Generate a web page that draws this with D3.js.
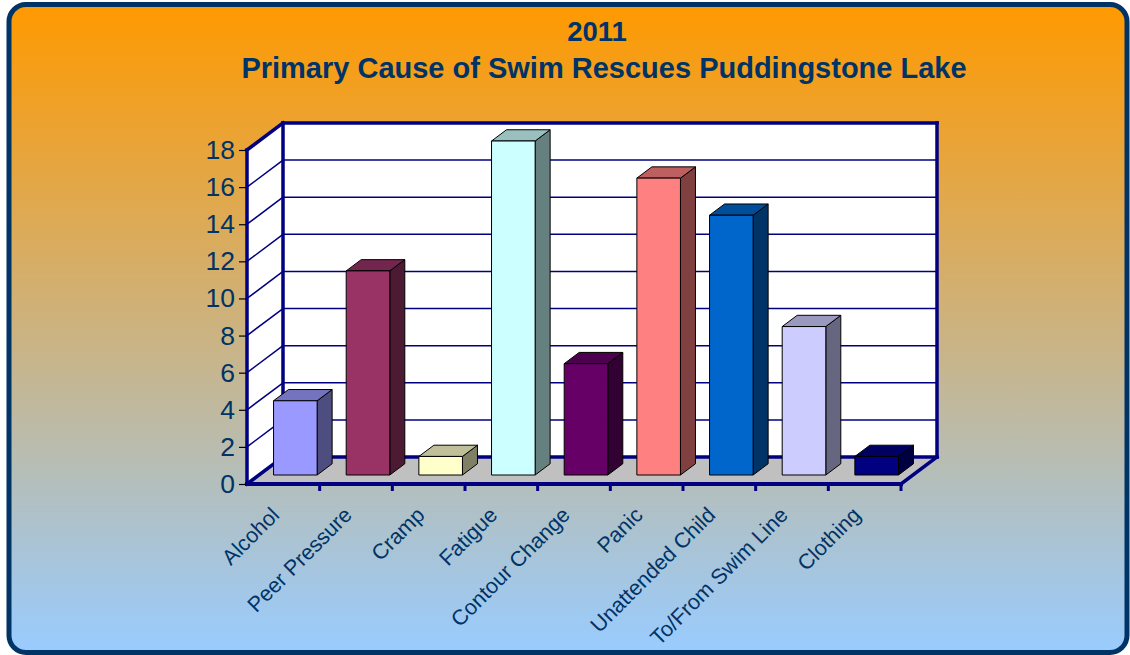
<!DOCTYPE html>
<html>
<head>
<meta charset="utf-8">
<script src="https://cdn.jsdelivr.net/npm/d3@7"></script>
<style>
  html, body { margin: 0; padding: 0; background: #ffffff; }
  svg { display: block; font-family: "Liberation Sans", Arial, sans-serif; }
</style>
</head>
<body>
<svg id="chart" width="1130" height="655"></svg>
<script>
// ---- data ----
const categories = ['Alcohol', 'Peer Pressure', 'Cramp', 'Fatigue', 'Contour Change',
                    'Panic', 'Unattended Child', 'To/From Swim Line', 'Clothing'];
const rescues = [4, 11, 1, 18, 6, 16, 14, 8, 1];
const barColors = ['#9999FF', '#993366', '#FFFFCC', '#CCFFFF', '#660066',
                   '#FF8080', '#0066CC', '#CCCCFF', '#000080'];
const yTicks = [0, 2, 4, 6, 8, 10, 12, 14, 16, 18];
const titleLines = ['2011', 'Primary Cause of Swim Rescues Puddingstone Lake'];

// ---- layout ----
const W = 1130, H = 655;
const plot = { left: 247, right: 901, bottom: 484, top: 150 };
const depth = { dx: 36, dy: -27 };      // floor depth offset (oblique projection)
const barDepth = [1 / 3, 0.75];          // bar front/back as fraction of floor depth
const navy = '#000080';
const textColor = '#003366';

const svg = d3.select('#chart');
const defs = svg.append('defs');

const grad = defs.append('linearGradient')
    .attr('id', 'bg')
    .attr('x1', 0).attr('y1', 0).attr('x2', 0).attr('y2', 1);
grad.append('stop').attr('offset', '0%').attr('stop-color', '#FF9900');
grad.append('stop').attr('offset', '100%').attr('stop-color', '#99CCFF');

// background panel
svg.append('rect')
    .attr('x', 9).attr('y', 4.5)
    .attr('width', W - 12).attr('height', H - 7)
    .attr('rx', 17).attr('ry', 17)
    .attr('fill', 'url(#bg)')
    .attr('stroke', '#003366')
    .attr('stroke-width', 5);

// title
const titleStyle = [{ x: 597, y: 41, size: 27.5 }, { x: 604, y: 78, size: 29 }];
svg.append('g')
    .selectAll('text')
    .data(titleLines)
    .join('text')
    .attr('x', (d, i) => titleStyle[i].x)
    .attr('y', (d, i) => titleStyle[i].y)
    .attr('text-anchor', 'middle')
    .attr('font-size', (d, i) => titleStyle[i].size)
    .attr('font-weight', 'bold')
    .attr('fill', textColor)
    .text(d => d);

// scales
const x = d3.scaleBand()
    .domain(categories)
    .range([plot.left, plot.right])
    .paddingInner(0.4)
    .paddingOuter(0.2);

const y = d3.scaleLinear()
    .domain([0, 18])
    .range([plot.bottom, plot.top]);

const proj = (px, py, d) => [px + depth.dx * d, py + depth.dy * d];
const pts = arr => arr.map(p => p.join(',')).join(' ');

const g = svg.append('g');

// walls and floor
const y0 = y(0), yMax = y(18);
g.append('polygon')   // back wall
    .attr('points', pts([proj(plot.left, yMax, 1), proj(plot.right, yMax, 1),
                         proj(plot.right, y0, 1), proj(plot.left, y0, 1)]))
    .attr('fill', '#ffffff');
g.append('polygon')   // side wall
    .attr('points', pts([[plot.left, yMax], proj(plot.left, yMax, 1),
                         proj(plot.left, y0, 1), [plot.left, y0]]))
    .attr('fill', '#ffffff');
g.append('polygon')   // floor
    .attr('points', pts([[plot.left, y0], [plot.right, y0],
                         proj(plot.right, y0, 1), proj(plot.left, y0, 1)]))
    .attr('fill', '#C0C0C0');

// gridlines on back wall and side wall
const inner = yTicks.filter(v => v > 0 && v < 18);
g.selectAll('.grid-back')
    .data(inner)
    .join('line')
    .attr('class', 'grid-back')
    .attr('x1', v => proj(plot.left, y(v), 1)[0])
    .attr('y1', v => proj(plot.left, y(v), 1)[1])
    .attr('x2', v => proj(plot.right, y(v), 1)[0])
    .attr('y2', v => proj(plot.right, y(v), 1)[1])
    .attr('stroke', navy)
    .attr('stroke-width', 1.5);
g.selectAll('.grid-side')
    .data(inner)
    .join('line')
    .attr('class', 'grid-side')
    .attr('x1', plot.left)
    .attr('y1', v => y(v))
    .attr('x2', v => proj(plot.left, y(v), 1)[0])
    .attr('y2', v => proj(plot.left, y(v), 1)[1])
    .attr('stroke', navy)
    .attr('stroke-width', 1.5);

// wall edges
const edges = [
    [proj(plot.left, yMax, 1), proj(plot.right, yMax, 1)],
    [proj(plot.right, yMax, 1), proj(plot.right, y0, 1)],
    [proj(plot.left, yMax, 1), proj(plot.left, y0, 1)],
    [proj(plot.left, y0, 1), proj(plot.right, y0, 1)],
    [[plot.left, yMax], proj(plot.left, yMax, 1)],
    [[plot.left, y0], proj(plot.left, y0, 1)],
    [[plot.right, y0], proj(plot.right, y0, 1)]
];
g.selectAll('.edge')
    .data(edges)
    .join('line')
    .attr('class', 'edge')
    .attr('x1', d => d[0][0]).attr('y1', d => d[0][1])
    .attr('x2', d => d[1][0]).attr('y2', d => d[1][1])
    .attr('stroke', navy)
    .attr('stroke-width', 3.5)
    .attr('stroke-linecap', 'square');

// bars
const shade = (c, k) => {
    const r = d3.rgb(c);
    return d3.rgb(r.r * k, r.g * k, r.b * k).toString();
};
const bars = g.selectAll('.bar')
    .data(categories.map((c, i) => ({ cat: c, value: rescues[i], color: barColors[i] })))
    .join('g')
    .attr('class', 'bar');

bars.each(function (d) {
    const bg = d3.select(this);
    const xl = x(d.cat), xr = x(d.cat) + x.bandwidth();
    const yt = y(d.value), yb = y(0);
    const [d0, d1] = barDepth;
    const f = [proj(xl, yt, d0), proj(xr, yt, d0), proj(xr, yb, d0), proj(xl, yb, d0)];
    const top = [proj(xl, yt, d0), proj(xl, yt, d1), proj(xr, yt, d1), proj(xr, yt, d0)];
    const side = [proj(xr, yt, d0), proj(xr, yt, d1), proj(xr, yb, d1), proj(xr, yb, d0)];
    [[side, 0.5], [top, 0.75], [f, 1]].forEach(([p, k]) => {
        bg.append('polygon')
            .attr('points', pts(p))
            .attr('fill', shade(d.color, k))
            .attr('stroke', '#000000')
            .attr('stroke-width', 1)
            .attr('stroke-linejoin', 'round');
    });
});

// front axes
g.append('line')
    .attr('x1', plot.left).attr('y1', yMax)
    .attr('x2', plot.left).attr('y2', y0)
    .attr('stroke', navy).attr('stroke-width', 3.5)
    .attr('stroke-linecap', 'square');
g.append('line')
    .attr('x1', plot.left).attr('y1', y0)
    .attr('x2', plot.right).attr('y2', y0)
    .attr('stroke', navy).attr('stroke-width', 4)
    .attr('stroke-linecap', 'square');

// y axis ticks and labels
const yAxis = d3.axisLeft(y).tickValues(yTicks).tickSize(7).tickPadding(4);
const yAxisG = svg.append('g')
    .attr('transform', `translate(${plot.left - 1},0)`)
    .call(yAxis);
yAxisG.select('.domain').remove();
yAxisG.selectAll('.tick line').attr('stroke', '#000000').attr('stroke-width', 1.2);
yAxisG.selectAll('.tick text')
    .attr('fill', textColor)
    .attr('font-size', 26.5)
    .attr('font-family', '"Liberation Sans", Arial, sans-serif');

// category ticks (band boundaries)
const step = x.step();
const boundaries = categories.map((c, i) => plot.left + (i + 1) * step);
g.selectAll('.cat-tick')
    .data(boundaries)
    .join('line')
    .attr('class', 'cat-tick')
    .attr('x1', d => d).attr('x2', d => d)
    .attr('y1', y0).attr('y2', y0 + 7)
    .attr('stroke', navy)
    .attr('stroke-width', 3);

// category labels
svg.append('g')
    .selectAll('text')
    .data(categories)
    .join('text')
    .attr('transform', d => `translate(${x(d) + x.bandwidth() / 2 - 8},${y0 + 27}) rotate(-45)`)
    .attr('text-anchor', 'end')
    .attr('dy', '0.35em')
    .attr('font-size', 21.5)
    .attr('fill', textColor)
    .text(d => d);
</script>
</body>
</html>
